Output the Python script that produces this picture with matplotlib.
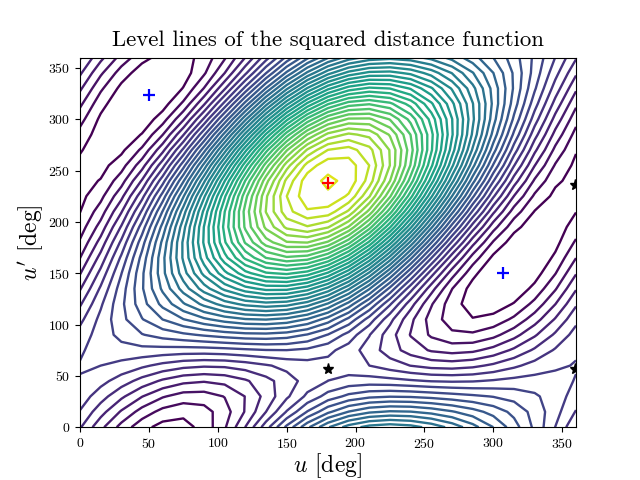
import numpy as np
import matplotlib
matplotlib.use("Agg")
import matplotlib.pyplot as plt

plt.rcParams["font.family"] = "serif"
plt.rcParams["font.serif"] = ["cmr10", "DejaVu Serif"]
plt.rcParams["mathtext.fontset"] = "cm"
plt.rcParams["axes.formatter.use_mathtext"] = True
plt.rcParams["axes.unicode_minus"] = False

# values, one row per u' = 0, 15, ... 345, columns u = 0, 15, ... 345
row_000 = [6.11, 4.28, 2.63, 1.34, 0.62, 0.60, 1.36, 2.87, 5.02, 7.57, 10.25, 12.78, 14.91, 16.48, 17.39, 17.68, 17.40, 16.68, 15.66, 14.41, 13.00, 11.45, 9.77, 7.98]
row_015 = [6.93, 5.40, 3.88, 2.58, 1.66, 1.30, 1.60, 2.55, 4.08, 6.00, 8.07, 10.06, 11.77, 13.04, 13.82, 14.12, 14.04, 13.66, 13.10, 12.41, 11.62, 10.70, 9.63, 8.38]
row_030 = [7.57, 6.44, 5.21, 4.04, 3.10, 2.55, 2.53, 3.04, 4.03, 5.34, 6.81, 8.23, 9.41, 10.28, 10.77, 10.94, 10.88, 10.69, 10.45, 10.20, 9.95, 9.64, 9.17, 8.49]
row_045 = [7.95, 7.34, 6.51, 5.62, 4.82, 4.27, 4.08, 4.29, 4.85, 5.65, 6.55, 7.38, 8.01, 8.36, 8.45, 8.34, 8.14, 7.95, 7.88, 7.93, 8.11, 8.31, 8.41, 8.32]
row_060 = [8.06, 8.00, 7.68, 7.20, 6.70, 6.31, 6.14, 6.19, 6.48, 6.89, 7.29, 7.57, 7.62, 7.42, 7.00, 6.48, 5.98, 5.63, 5.54, 5.75, 6.20, 6.79, 7.39, 7.85]
row_075 = [7.88, 8.39, 8.63, 8.68, 8.61, 8.54, 8.54, 8.64, 8.81, 8.96, 8.99, 8.78, 8.28, 7.51, 6.53, 5.48, 4.55, 3.88, 3.62, 3.78, 4.35, 5.20, 6.17, 7.12]
row_090 = [7.41, 8.48, 9.31, 9.94, 10.42, 10.79, 11.14, 11.45, 11.68, 11.73, 11.51, 10.93, 9.95, 8.62, 7.05, 5.42, 3.94, 2.83, 2.22, 2.17, 2.68, 3.63, 4.85, 6.17]
row_105 = [6.72, 8.29, 9.70, 10.94, 12.01, 12.96, 13.79, 14.46, 14.92, 15.04, 14.72, 13.90, 12.54, 10.71, 8.56, 6.32, 4.25, 2.56, 1.47, 1.06, 1.34, 2.22, 3.54, 5.10]
row_120 = [5.86, 7.83, 9.76, 11.59, 13.30, 14.88, 16.30, 17.47, 18.30, 18.65, 18.41, 17.48, 15.86, 13.63, 10.96, 8.13, 5.42, 3.10, 1.42, 0.51, 0.42, 1.07, 2.31, 3.98]
row_135 = [4.90, 7.15, 9.49, 11.87, 14.21, 16.44, 18.51, 20.28, 21.61, 22.34, 22.32, 21.45, 19.70, 17.19, 14.11, 10.73, 7.39, 4.42, 2.03, 0.58, -0.01, 0.26, 1.28, 2.89]
row_150 = [3.92, 6.31, 8.96, 11.79, 14.69, 17.57, 20.30, 22.72, 24.66, 25.88, 26.22, 25.55, 23.84, 21.19, 17.80, 13.97, 10.07, 6.45, 3.46, 1.30, 0.10, -0.12, 0.54, 1.95]
row_165 = [2.98, 5.36, 8.19, 11.34, 14.71, 18.16, 21.54, 24.63, 27.21, 29.02, 29.83, 29.50, 27.98, 25.34, 21.77, 17.62, 13.25, 9.06, 5.42, 2.59, 0.75, -0.06, 0.13, 1.20]
row_180 = [2.15, 4.38, 7.21, 10.56, 14.26, 18.18, 22.14, 25.87, 29.10, 31.53, 32.91, 33.04, 31.83, 29.34, 25.77, 21.42, 16.72, 12.06, 7.84, 4.37, 1.88, 0.45, 0.07, 0.68]
row_195 = [1.47, 3.40, 6.10, 9.46, 13.36, 17.62, 22.04, 26.33, 30.18, 33.24, 35.23, 35.90, 35.11, 32.92, 29.48, 25.12, 20.22, 15.22, 10.54, 6.51, 3.40, 1.34, 0.35, 0.42]
row_210 = [0.97, 2.50, 4.91, 8.14, 12.06, 16.51, 21.25, 25.98, 30.37, 34.04, 36.63, 37.87, 37.61, 35.82, 32.67, 28.44, 23.52, 18.33, 13.33, 8.86, 5.21, 2.54, 0.95, 0.45]
row_225 = [0.69, 1.70, 3.71, 6.66, 10.44, 14.89, 19.80, 24.83, 29.65, 33.83, 36.99, 38.70, 38.85, 37.84, 35.09, 31.14, 26.36, 21.17, 16.00, 11.23, 7.15, 3.97, 1.81, 0.72]
row_240 = [0.60, 1.06, 2.56, 5.10, 8.58, 12.87, 17.76, 22.95, 28.04, 32.61, 36.27, 38.60, 39.20, 38.75, 36.56, 33.02, 28.54, 23.51, 18.36, 13.43, 9.08, 5.51, 2.85, 1.21]
row_255 = [0.74, 0.63, 1.57, 3.58, 6.63, 10.60, 15.32, 20.46, 25.67, 30.50, 34.53, 37.40, 38.70, 38.55, 36.99, 33.98, 29.93, 25.22, 20.24, 15.36, 10.89, 7.06, 4.03, 1.90]
row_270 = [1.09, 0.42, 0.77, 2.20, 4.70, 8.23, 12.60, 17.53, 22.68, 27.61, 31.89, 35.13, 37.03, 37.44, 36.35, 33.92, 30.42, 26.15, 21.52, 16.85, 12.44, 8.51, 5.23, 2.73]
row_285 = [1.64, 0.47, 0.24, 1.06, 2.97, 5.92, 9.81, 14.38, 19.30, 24.16, 28.54, 32.02, 34.30, 35.21, 34.70, 32.88, 29.97, 26.28, 22.13, 17.82, 13.64, 9.78, 6.40, 3.66]
row_300 = [2.36, 0.79, 0.04, 0.27, 1.54, 3.86, 7.16, 11.23, 15.78, 20.41, 24.71, 28.30, 30.84, 32.15, 32.16, 30.93, 28.66, 25.60, 22.04, 18.23, 14.42, 10.79, 7.49, 4.64]
row_315 = [3.22, 1.37, 0.21, -0.11, 0.53, 2.20, 4.85, 8.32, 12.37, 16.62, 20.70, 24.23, 26.90, 28.49, 28.91, 28.23, 26.59, 24.18, 21.27, 18.06, 14.75, 11.50, 8.42, 5.63]
row_330 = [4.18, 2.19, 0.72, -0.05, 0.03, 1.05, 3.04, 5.86, 9.30, 13.06, 16.78, 20.11, 22.74, 24.47, 25.20, 24.97, 23.89, 22.13, 19.88, 17.32, 14.62, 11.86, 9.14, 6.55]
row_345 = [5.16, 3.18, 1.53, 0.44, 0.05, 0.50, 1.84, 3.99, 6.79, 9.96, 13.21, 16.20, 18.64, 20.36, 21.27, 21.36, 20.75, 19.56, 17.96, 16.07, 14.01, 11.84, 9.59, 7.34]

minima_u = [50, 307]
minima_up = [324, 150]
maximum_u = [180]
maximum_up = [238]
saddles_u = [180, 359, 359]
saddles_up = [57, 57, 236]

xtick_vals = [0, 50, 100, 150, 200, 250, 300, 350]
ytick_vals = [0, 50, 100, 150, 200, 250, 300, 350]

rows = [row_000, row_015, row_030, row_045, row_060, row_075, row_090, row_105,
        row_120, row_135, row_150, row_165, row_180, row_195, row_210, row_225,
        row_240, row_255, row_270, row_285, row_300, row_315, row_330, row_345]
Z = np.array(rows)
# the function is periodic, 360 deg is the same as 0 deg
Z = np.vstack([Z, Z[0]])
Z = np.hstack([Z, Z[:, [0]]])
u = np.arange(0, 361, 15)
up = np.arange(0, 361, 15)

fig, ax = plt.subplots(figsize=(6.4, 4.8), dpi=100)
ax.contour(u, up, Z, levels=np.arange(1, 40), cmap="viridis", vmin=1, vmax=41, linewidths=1.7)

ax.plot(minima_u, minima_up, "+", color="blue", ms=9, mew=1.6)
ax.plot(saddles_u, saddles_up, "*", color="black", ms=8)
ax.plot(maximum_u, maximum_up, "+", color="red", ms=9, mew=1.6)

ax.set_xlim(0, 360)
ax.set_ylim(0, 360)
ax.set_xticks(xtick_vals)
ax.set_yticks(ytick_vals)
ax.tick_params(labelsize=10)
ax.set_title("Level lines of the squared distance function", fontsize=16.4, pad=8)
ax.set_xlabel(r"$u$ [deg]", fontsize=17, labelpad=0)
ax.set_ylabel(r"$u'$ [deg]", fontsize=17, labelpad=2)

fig.savefig("out.png", dpi=100)
